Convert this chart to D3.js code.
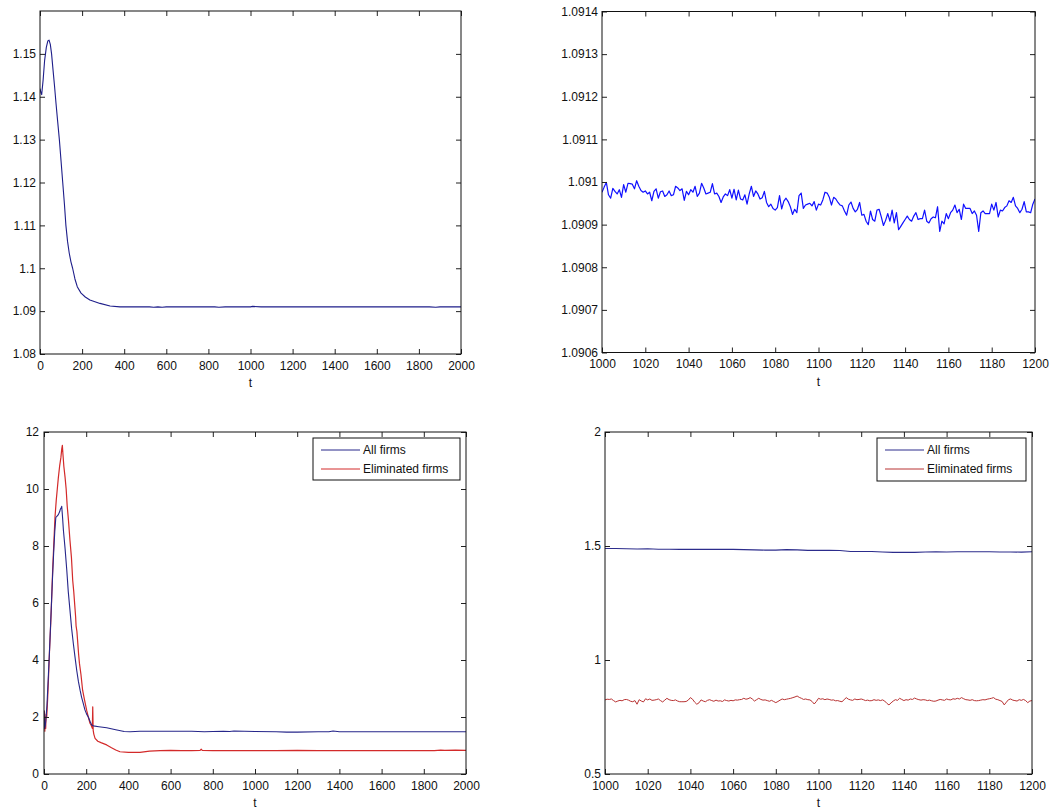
<!DOCTYPE html>
<html>
<head>
<meta charset="utf-8">
<script src="https://cdn.jsdelivr.net/npm/d3@7"></script>
<style>
body { margin: 0; background: #fff; }
svg { display: block; }
text { font-family: "Liberation Sans", Arial, sans-serif; font-size: 12px; fill: #111; }
</style>
</head>
<body>
<svg id="fig" width="1062" height="809"></svg>
<script>
// ---- top left: whole run, t = 0..2000
var priceT = [0,4,8,15,22,30,37,43,49,55,62,69,76,84,92,100,108,116,123,131,139,147,155,166,177,195,215,237,285,333,
  380,450,520,540,560,580,600,700,830,850,880,1000,1010,1050,1200,1500,1850,1880,1900,2000];
var priceV = [1.1419,1.1410,1.1405,1.1440,1.1485,1.1515,1.1530,1.1532,1.1522,1.1500,1.1462,1.1425,1.1385,1.1342,1.1300,
  1.1250,1.1200,1.1150,1.1100,1.1062,1.1035,1.1015,1.1000,1.0975,1.0957,1.0942,1.0933,1.0926,1.0918,1.0912,
  1.0910,1.0910,1.0910,1.0909,1.0910,1.0909,1.0910,1.0910,1.0910,1.0909,1.0910,1.0910,1.0911,1.0910,1.0910,
  1.0910,1.0910,1.0909,1.0910,1.0910];

// ---- top right: zoom on t = 1000..1200 (one value per period)
var zoomStart = 1000;
var priceZoom = [
  1.090976,1.090988,1.090999,1.09097,1.090962,1.090985,1.090978,1.090972,1.090982,1.090964,
  1.090994,1.090976,1.090997,1.090996,1.090995,1.090984,1.091003,1.09099,1.09098,1.090976,
  1.090979,1.090972,1.090976,1.090956,1.090978,1.090984,1.090962,1.090977,1.090979,1.090966,
  1.09097,1.090979,1.090968,1.09097,1.09099,1.090986,1.09098,1.090984,1.090957,1.090978,
  1.09097,1.090982,1.090976,1.09099,1.090966,1.090974,1.090997,1.090986,1.090972,1.090974,
  1.090976,1.090996,1.090972,1.090974,1.090966,1.090952,1.090965,1.090972,1.090968,1.090982,
  1.090962,1.090983,1.090958,1.090981,1.09096,1.090958,1.09097,1.090948,1.090972,1.09099,
  1.090966,1.090979,1.090972,1.09096,1.090963,1.090978,1.090952,1.090942,1.090948,1.090938,
  1.090934,1.09094,1.090968,1.090937,1.090955,1.090962,1.090954,1.090942,1.090924,1.090936,
  1.090928,1.090968,1.090974,1.090938,1.090946,1.090948,1.09095,1.090944,1.090954,1.090934,
  1.090948,1.090946,1.090958,1.090976,1.090974,1.090964,1.090946,1.090964,1.09096,1.090952,
  1.090946,1.090944,1.090932,1.090922,1.090946,1.090953,1.090938,1.09093,1.090936,1.090952,
  1.090922,1.090924,1.090908,1.0909,1.090932,1.090912,1.090908,1.090934,1.090936,1.090918,
  1.090898,1.09091,1.090926,1.090908,1.090934,1.090904,1.090928,1.090888,1.090896,1.090904,
  1.090912,1.09092,1.090912,1.090908,1.09092,1.090928,1.090912,1.090914,1.090914,1.090934,
  1.090908,1.090904,1.090914,1.090918,1.090916,1.090942,1.090884,1.090908,1.090902,1.090926,
  1.090914,1.090928,1.090934,1.090946,1.090928,1.090936,1.090912,1.090948,1.090938,1.090938,
  1.090938,1.090926,1.090932,1.090922,1.090884,1.090928,1.090932,1.090926,1.090926,1.090926,
  1.090948,1.090934,1.090952,1.090918,1.090934,1.090932,1.09094,1.090944,1.090956,1.090952,
  1.090964,1.090944,1.090938,1.090928,1.090936,1.090954,1.09093,1.09093,1.090928,1.090948,
  1.09096];

// ---- bottom left: all firms vs eliminated firms, t = 0..2000
var allT = [0,3,6,9,14,21,26,31,36,41,46,51,56,62,68,74,78,82,84,88,92,100,108,115,123,131,139,147,155,163,
  171,178,186,194,202,210,218,226,234,260,297,340,380,408,455,520,600,700,760,800,850,880,900,1000,1100,
  1150,1200,1300,1350,1370,1400,1500,1600,1700,1800,1900,2000];
var allV = [2.24,1.6,1.7,1.9,2.4,3.5,4.3,5.2,6.1,7.0,7.8,8.5,9.0,9.05,9.1,9.2,9.3,9.35,9.39,9.0,8.55,7.9,7.15,6.4,5.75,
  5.1,4.58,4.1,3.64,3.25,2.94,2.7,2.48,2.25,2.1,2.0,1.85,1.72,1.69,1.66,1.62,1.55,1.49,1.48,1.50,1.50,1.50,1.50,
  1.48,1.49,1.50,1.49,1.51,1.49,1.48,1.47,1.47,1.48,1.48,1.51,1.48,1.48,1.48,1.48,1.48,1.48,1.48];
var elimT = [0,2,4,6,8,10,13,17,21,26,32,36,41,46,52,58,63,68,74,80,84,87,90,94,100,105,110,116,123,130,136,141,
  146,150,152,156,160,164,168,175,183,192,202,210,218,224,229,231,233,236,242,255,270,297,320,340,360,400,455,
  500,550,600,650,700,740,745,750,800,900,1000,1100,1200,1300,1400,1500,1600,1700,1800,1850,1880,1900,1950,2000];
var elimV = [1.6,2.2,1.5,2.0,1.6,2.1,2.0,2.6,3.3,4.3,5.3,6.1,7.15,8.0,9.0,9.6,10.0,10.4,10.8,11.1,11.4,11.53,11.2,
  10.8,10.4,10.0,9.4,8.9,8.2,7.6,6.8,6.4,5.9,5.5,5.2,5.0,4.6,4.2,3.88,3.5,2.94,2.6,2.24,2.0,1.78,1.7,1.6,2.36,
  1.54,1.4,1.25,1.15,1.1,1.02,0.92,0.84,0.78,0.76,0.76,0.80,0.82,0.83,0.82,0.82,0.83,0.87,0.83,0.82,0.82,0.82,
  0.82,0.83,0.82,0.82,0.82,0.82,0.82,0.82,0.82,0.84,0.83,0.84,0.83];

// ---- bottom right: zoom on t = 1000..1200
var allZoomStep = 5;
var allZoom = [1.489,1.489,1.488,1.487,1.488,1.486,1.486,1.485,1.485,1.485,1.485,1.485,1.485,1.484,1.483,1.482,
  1.482,1.484,1.483,1.481,1.481,1.481,1.480,1.476,1.476,1.476,1.474,1.472,1.472,1.472,1.474,1.475,1.474,1.475,
  1.475,1.475,1.475,1.474,1.474,1.473,1.475];
var elimZoom = [
  0.825,0.828,0.827,0.829,0.822,0.816,0.820,0.823,0.821,0.826,
  0.827,0.824,0.819,0.817,0.822,0.806,0.826,0.820,0.816,0.830,
  0.825,0.829,0.823,0.824,0.826,0.829,0.822,0.816,0.824,0.832,
  0.826,0.823,0.822,0.825,0.820,0.817,0.817,0.817,0.818,0.824,
  0.835,0.828,0.815,0.806,0.812,0.825,0.820,0.817,0.823,0.826,
  0.822,0.819,0.824,0.820,0.821,0.818,0.825,0.822,0.820,0.823,
  0.821,0.825,0.824,0.826,0.827,0.832,0.828,0.830,0.835,0.829,
  0.820,0.826,0.832,0.827,0.824,0.825,0.822,0.819,0.823,0.818,
  0.813,0.818,0.824,0.829,0.826,0.828,0.830,0.832,0.835,0.838,
  0.842,0.836,0.832,0.827,0.829,0.826,0.825,0.818,0.807,0.818,
  0.832,0.828,0.830,0.826,0.829,0.827,0.824,0.825,0.821,0.822,
  0.819,0.817,0.826,0.835,0.828,0.825,0.823,0.829,0.826,0.827,
  0.829,0.826,0.822,0.824,0.821,0.822,0.826,0.823,0.825,0.822,
  0.825,0.820,0.810,0.803,0.812,0.820,0.826,0.823,0.832,0.827,
  0.822,0.826,0.824,0.829,0.827,0.833,0.829,0.826,0.824,0.826,
  0.825,0.822,0.824,0.821,0.819,0.820,0.824,0.827,0.825,0.823,
  0.829,0.826,0.825,0.830,0.828,0.832,0.829,0.835,0.830,0.826,
  0.825,0.823,0.826,0.822,0.821,0.822,0.824,0.826,0.825,0.828,
  0.830,0.832,0.835,0.828,0.826,0.822,0.818,0.803,0.815,0.826,
  0.829,0.824,0.822,0.820,0.826,0.823,0.827,0.822,0.813,0.820,
  0.822];

// tick labels
var ticksLong = [0,200,400,600,800,1000,1200,1400,1600,1800,2000];
var ticksShort = [1000,1020,1040,1060,1080,1100,1120,1140,1160,1180,1200];
var ticksPrice = [1.08,1.09,1.1,1.11,1.12,1.13,1.14,1.15];
var ticksPriceZoom = [1.0906,1.0907,1.0908,1.0909,1.091,1.0911,1.0912,1.0913,1.0914];
var ticksFirms = [0,2,4,6,8,10,12];
var ticksFirmsZoom = [0.5,1,1.5,2];
var legendNames = ["All firms", "Eliminated firms"];

var svg = d3.select('#fig');
var fmt = d3.format('~g');
var clipN = 0;

function panel(box, xDom, yDom, xTicks, yTicks, yPad) {
  var x = d3.scaleLinear().domain(xDom).range([box.l, box.r]);
  var y = d3.scaleLinear().domain(yDom).range([box.b, box.t]);
  var g = svg.append('g');
  var id = 'clip' + (clipN++);
  g.append('clipPath').attr('id', id).append('rect')
    .attr('x', box.l).attr('y', box.t).attr('width', box.r - box.l).attr('height', box.b - box.t);
  var plot = g.append('g').attr('clip-path', 'url(#' + id + ')');

  var nodom = function(s) { s.select('.domain').remove(); s.selectAll('line').attr('stroke', '#222'); };
  var axes = g.append('g');
  axes.append('g').attr('transform', 'translate(0,' + box.b + ')')
    .call(d3.axisBottom(x).tickValues(xTicks).tickFormat(fmt).tickSizeInner(-5).tickSizeOuter(0).tickPadding(7))
    .call(nodom);
  axes.append('g').attr('transform', 'translate(0,' + box.t + ')')
    .call(d3.axisTop(x).tickValues(xTicks).tickFormat('').tickSizeInner(-5).tickSizeOuter(0))
    .call(nodom);
  axes.append('g').attr('transform', 'translate(' + box.l + ',0)')
    .call(d3.axisLeft(y).tickValues(yTicks).tickFormat(fmt).tickSizeInner(-5).tickSizeOuter(0).tickPadding(yPad))
    .call(nodom);
  axes.append('g').attr('transform', 'translate(' + box.r + ',0)')
    .call(d3.axisRight(y).tickValues(yTicks).tickFormat('').tickSizeInner(-5).tickSizeOuter(0))
    .call(nodom);
  axes.selectAll('text').style('font-family', '"Liberation Sans", Arial, sans-serif').style('font-size', '12px').attr('fill', '#111');

  g.append('rect').attr('x', box.l).attr('y', box.t)
    .attr('width', box.r - box.l).attr('height', box.b - box.t)
    .attr('fill', 'none').attr('stroke', '#111').attr('stroke-width', 1);

  g.append('text').attr('x', (box.l + box.r) / 2).attr('y', box.b + 33)
    .attr('text-anchor', 'middle').text('t');

  return { x: x, y: y, plot: plot, box: box, g: g };
}

function addLine(p, xs, ys, color, w) {
  var line = d3.line().x(function(d, i) { return p.x(xs[i]); }).y(function(d) { return p.y(d); });
  p.plot.append('path').datum(ys)
    .attr('d', line).attr('fill', 'none')
    .attr('stroke', color).attr('stroke-width', w || 1)
    .attr('stroke-linejoin', 'round');
}

function addLegend(p, colors, w, h) {
  var lx = p.box.r - 6 - w, ly = p.box.t + 6;
  var lg = p.g.append('g').attr('transform', 'translate(' + lx + ',' + ly + ')');
  lg.append('rect').attr('width', w).attr('height', h).attr('fill', '#fff').attr('stroke', '#111');
  legendNames.forEach(function(name, i) {
    var yy = 12 + i * 19;
    lg.append('line').attr('x1', 8).attr('x2', 47).attr('y1', yy).attr('y2', yy)
      .attr('stroke', colors[i]).attr('stroke-width', 1);
    lg.append('text').attr('x', 50).attr('y', yy).attr('dy', '0.35em').text(name);
  });
}

// top left
var p1 = panel({ l: 40, r: 461, t: 11, b: 354 }, [0, 2000], [1.08, 1.16], ticksLong, ticksPrice, 4);
addLine(p1, priceT, priceV, '#1e1e8a', 1.1);

// top right
var p2 = panel({ l: 602, r: 1035, t: 11.5, b: 352.5 }, [1000, 1200], [1.0906, 1.0914], ticksShort, ticksPriceZoom, 4);
addLine(p2, d3.range(zoomStart, zoomStart + priceZoom.length), priceZoom, '#1010ff', 1.2);

// bottom left
var p3 = panel({ l: 44, r: 466, t: 432, b: 774 }, [0, 2000], [0, 12], ticksLong, ticksFirms, 5);
addLine(p3, elimT, elimV, '#d32a2a', 1.2);
addLine(p3, allT, allV, '#26268a', 1.1);
addLegend(p3, ['#26268a', '#d32a2a'], 147, 42);

// bottom right
var p4 = panel({ l: 605, r: 1032, t: 432, b: 774 }, [1000, 1200], [0.5, 2], ticksShort, ticksFirmsZoom, 4);
addLine(p4, d3.range(zoomStart, zoomStart + allZoom.length * allZoomStep, allZoomStep), allZoom, '#2c2c8c', 1.1);
addLine(p4, d3.range(zoomStart, zoomStart + elimZoom.length), elimZoom, '#b83232', 1);
addLegend(p4, ['#2c2c8c', '#b83232'], 149, 43);
</script>
</body>
</html>
